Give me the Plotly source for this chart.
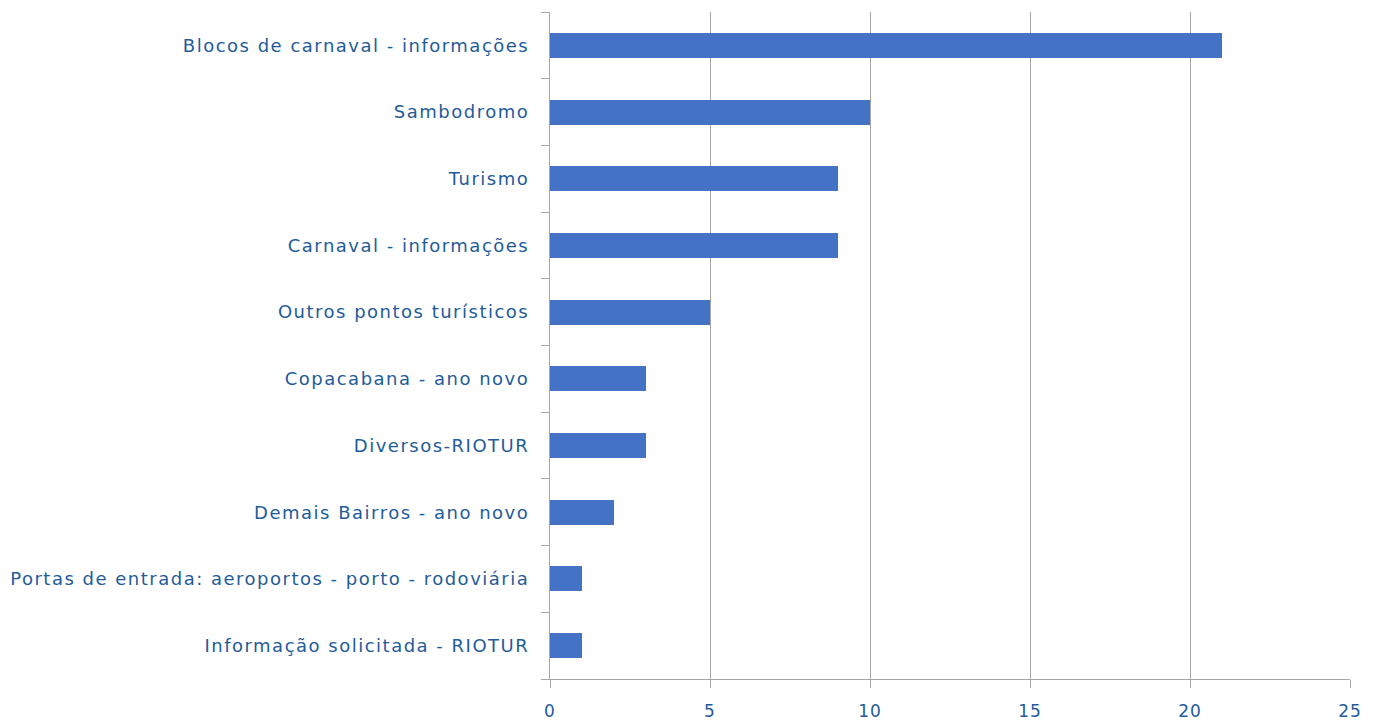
import plotly.graph_objects as go

categories = [
    "Blocos de carnaval - informações",
    "Sambodromo",
    "Turismo",
    "Carnaval - informações",
    "Outros pontos turísticos",
    "Copacabana - ano novo",
    "Diversos-RIOTUR",
    "Demais Bairros - ano novo",
    "Portas de entrada: aeroportos - porto - rodoviária",
    "Informação solicitada - RIOTUR",
]
values = [21, 10, 9, 9, 5, 3, 3, 2, 1, 1]
x_ticks = [0, 5, 10, 15, 20, 25]

text_color = "#1F5C99"
grid_color = "#A6A6A6"

fig = go.Figure(go.Bar(
    x=values, y=categories, orientation="h",
    marker=dict(color="#4472C4", line=dict(width=0)),
    width=0.375,
))

fig.update_layout(
    width=1360, height=716,
    margin=dict(l=542, r=18, t=4, b=45, autoexpand=False),
    paper_bgcolor="white", plot_bgcolor="white",
    font=dict(family="DejaVu Sans", size=18, color=text_color),
    showlegend=False,
    bargap=0,
)
fig.update_xaxes(
    range=[0, 25], tickvals=x_ticks, showgrid=True, gridcolor=grid_color, gridwidth=1.3,
    showline=True, linecolor=grid_color, linewidth=1.3,
    ticks="outside", ticklen=8, tickcolor=grid_color, tickwidth=1.3,
    zeroline=False, automargin=False, ticklabelstandoff=8,
    tickfont=dict(size=17, color=text_color),
)
fig.update_yaxes(
    categoryorder="array", categoryarray=categories[::-1],
    showline=True, linecolor=grid_color, linewidth=1.3,
    ticks="outside", ticklen=8, tickcolor=grid_color, tickwidth=1.3,
    tickson="boundaries", showgrid=False, automargin=False,
    ticklabelstandoff=16,
    tickfont=dict(size=18, color=text_color),
)

post = """
document.querySelectorAll('.ytick text').forEach(function(t){t.setAttribute('letter-spacing','1.5px');});
document.querySelectorAll('.xtick text').forEach(function(t){t.setAttribute('letter-spacing','1px');});
"""
fig.write_html("out.html", post_script=post)
